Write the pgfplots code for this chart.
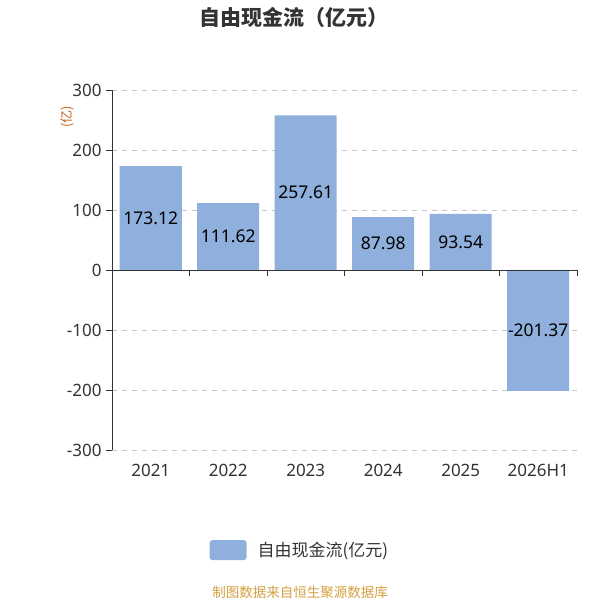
\documentclass[border=0pt]{standalone}
\usepackage{pgfplots}
\pgfplotsset{compat=1.18}
\usepackage{fontspec}
\setmainfont{Noto Sans}
\newfontfamily\cjk{Noto Sans CJK SC}
\definecolor{barblue}{HTML}{8FAFDC}
\definecolor{txt}{HTML}{333333}
\definecolor{srcgold}{HTML}{D4A040}
\definecolor{ylab}{HTML}{C8641E}
\pgfplotstableread{
x y half lab
0 173.12 86.56 173.12
1 111.62 55.81 111.62
2 257.61 128.805 257.61
3 87.98 43.99 87.98
4 93.54 46.77 93.54
5 -201.37 -100.685 -201.37
}\datatable
\begin{document}
\begin{tikzpicture}
\path[use as bounding box] (0,0) rectangle (600bp,600bp);
\begin{axis}[
  at={(112bp,150bp)}, anchor=south west,
  scale only axis, width=465bp, height=360bp,
  xmin=-0.5, xmax=5.5, ymin=-300, ymax=300,
  axis y line*=left, axis x line*=bottom,
  x axis line style={draw=none},
  ytick={-300,-200,...,300},
  xtick={0,...,5},
  xticklabels={2021,2022,2023,2024,2025,2026H1},
  xtick style={draw=none},
  ytick style={draw=txt, line width=0.9bp},
  y axis line style={draw=txt, line width=0.9bp, -},
  ytick pos=left,
  tick align=outside, major tick length=6bp,
  ymajorgrids, grid style={draw=gray!45, dash pattern=on 5bp off 5bp, line width=0.7bp},
  ticklabel style={font=\fontsize{17bp}{20bp}\selectfont, text=txt},
  /pgf/number format/assume math mode=true,
  xticklabel style={yshift=-5bp},
  yticklabel style={xshift=-1bp},
  clip=false,
  legend style={at={(0.404,-0.278)}, anchor=center, draw=none, fill=none,
    font=\cjk\fontsize{17bp}{20bp}\selectfont, text=txt,
    legend cell align=left},
]
\addplot[ybar, bar width=62bp, fill=barblue, draw=none, bar shift=0pt,
  legend image code/.code={\fill[fill=barblue, rounded corners=3bp] (0bp,-10bp) rectangle (37bp,10bp); \path (46bp,0) circle (0pt);}]
  table[x=x, y=y] {\datatable};
\addlegendentry{自由现金流(亿元)}
\addplot[draw=none, mark=none, forget plot,
  nodes near coords, point meta=explicit symbolic,
  nodes near coords style={anchor=center, font=\fontsize{17.5bp}{20bp}\selectfont, text=black}]
  table[x=x, y=half, meta=lab] {\datatable};
\draw[txt, line width=0.9bp] (axis cs:-0.5,0) -- (axis cs:5.5,0);
\pgfplotsinvokeforeach{0.5,1.5,2.5,3.5,4.5,5.5}{
  \draw[txt, line width=0.9bp] (axis cs:#1,0) -- ([yshift=-6bp]axis cs:#1,0);
}
\end{axis}
\node[font=\cjk\bfseries\fontsize{21bp}{24bp}\selectfont, text=txt] at (294bp,583bp) {自由现金流（亿元）};
\node[font=\cjk\fontsize{13bp}{14bp}\selectfont, text=ylab, rotate=90] at (67bp,483bp) {(亿)};
\node[font=\cjk\fontsize{13.5bp}{16bp}\selectfont, text=srcgold] at (300bp,8bp) {制图数据来自恒生聚源数据库};
\end{tikzpicture}
\end{document}
